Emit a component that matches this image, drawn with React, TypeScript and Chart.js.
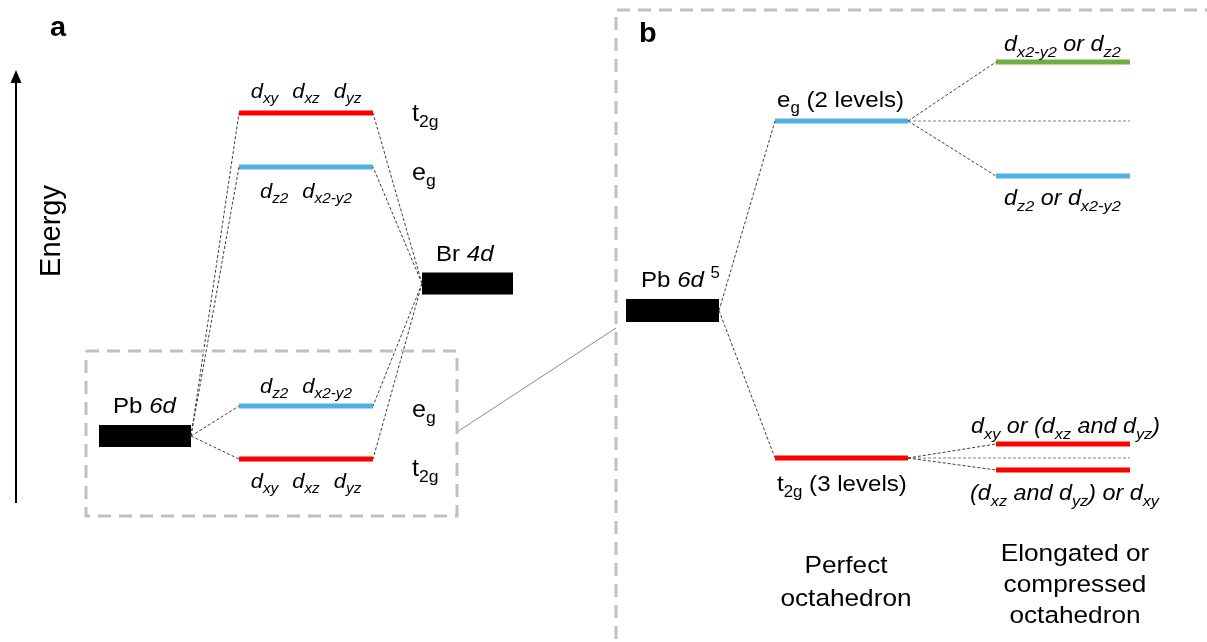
import React, { useEffect, useRef } from 'react';
import { Chart, registerables } from 'chart.js';

Chart.register(...registerables);

const W = 1207;
const H = 642;
const FONT = '"Liberation Sans", Arial, Helvetica, sans-serif';
const SX = 1.07; // horizontal stretch of the original figure's lettering

// ---------------- DATA ----------------
// Energy positions are expressed on the chart's vertical scale (0 = top of figure, high energy).
// Panel a: Pb 6d / Br 4d mixing
const panelAAtomNames = ['Pb 6d', 'Br 4d'];
const panelAAtomLevels = [436, 283.5];
const panelASymmetry = ['t2g', 'eg', 'eg', 't2g'];
const panelAMixedLevels = [113, 167, 406, 459]; // antibonding t2g, eg ; bonding eg, t2g
const panelAOrbitals = [
  ['xy', 'xz', 'yz'],
  ['z2', 'x2-y2'],
  ['z2', 'x2-y2'],
  ['xy', 'xz', 'yz'],
];

// Panel b: crystal-field splitting of Pb 6d^5
const panelBAtomLevel = [310.5];
const panelBOctahedronSymmetry = ['eg', 't2g'];
const panelBOctahedronLevels = [121, 458];
const panelBOctahedronCounts = [2, 3];
const panelBDistortedEg = [62, 176];
const panelBDistortedT2g = [444, 470];
const panelBColumnTitles = [
  ['Perfect', 'octahedron'],
  ['Elongated or', 'compressed', 'octahedron'],
];

// ---------------- LAYOUT / STYLE ----------------
const AX = { pb: [99, 191], mixed: [239, 373], br: [422, 513], sym: 412 };
const BX = { pb: [626, 719], oct: [775, 908], split: [996, 1130] };
const RED = '#ff0000';
const BLUE = '#4fb1df';
const GREEN = '#70ad47';
const symColor = (s: string) => (s === 't2g' ? RED : BLUE);

type Seg = { t: string; i?: boolean; b?: boolean; s?: 'sub' | 'sup' };

const segFont = (F: number, s: Seg) =>
  `${s.i ? 'italic ' : ''}${s.b ? 'bold ' : ''}${s.s ? F * 0.7 : F}px ${FONT}`;

function measure(ctx: CanvasRenderingContext2D, segs: Seg[], F: number) {
  let w = 0;
  for (const s of segs) {
    ctx.font = segFont(F, s);
    w += ctx.measureText(s.t).width;
  }
  return w * SX;
}

function drawRich(
  ctx: CanvasRenderingContext2D,
  segs: Seg[],
  x: number,
  y: number,
  F: number,
  align: 'left' | 'center' = 'left'
) {
  const w = measure(ctx, segs, F);
  let cx = align === 'center' ? x - w / 2 : x;
  ctx.save();
  ctx.fillStyle = '#000';
  ctx.textAlign = 'left';
  ctx.textBaseline = 'alphabetic';
  for (const s of segs) {
    ctx.font = segFont(F, s);
    const dy = s.s === 'sub' ? F * 0.26 : s.s === 'sup' ? -F * 0.42 : 0;
    ctx.save();
    ctx.translate(cx, y + dy);
    ctx.scale(SX, 1);
    ctx.fillText(s.t, 0, 0);
    ctx.restore();
    cx += ctx.measureText(s.t).width * SX;
  }
  ctx.restore();
}

const dOrb = (sub: string): Seg[] => [
  { t: 'd', i: true },
  { t: sub, i: true, s: 'sub' },
];
const it = (t: string): Seg => ({ t, i: true });
const symSegs = (s: string): Seg[] => [{ t: s[0] }, { t: s.slice(1), s: 'sub' }];
const atomSegs = (name: string): Seg[] => {
  const [el, orb] = name.split(' ');
  return [{ t: el + ' ' }, { t: orb, i: true }];
};

function drawGroup(ctx: CanvasRenderingContext2D, groups: Seg[][], cx: number, y: number, F: number, gap: number) {
  const widths = groups.map((g) => measure(ctx, g, F));
  const total = widths.reduce((a, b) => a + b, 0) + gap * (groups.length - 1);
  let x = cx - total / 2;
  groups.forEach((g, k) => {
    drawRich(ctx, g, x, y, F);
    x += widths[k] + gap;
  });
}

const seg = (x1: number, y1: number, x2: number, y2: number, style: any) => ({
  data: [
    { x: x1, y: y1 },
    { x: x2, y: y2 },
  ],
  pointRadius: 0,
  fill: false,
  tension: 0,
  ...style,
});

const LEVEL = (c: string) => ({ borderColor: c, borderWidth: 5, borderCapStyle: 'butt' });
const ATOM = { borderColor: '#000', borderWidth: 22, borderCapStyle: 'butt' };
const CONNECT = { borderColor: '#3c3c3c', borderWidth: 1, borderDash: [3, 2] };
const HORIZ = { borderColor: '#808080', borderWidth: 1, borderDash: [3, 2] };
const BOX = { borderColor: '#c0c0c0', borderWidth: 3, borderDash: [13, 8], borderJoinStyle: 'miter' };

function buildDatasets() {
  const ds: any[] = [];
  const [pbY, brY] = panelAAtomLevels;
  // panel a box
  ds.push({
    data: [
      { x: 86, y: 351 },
      { x: 457, y: 351 },
      { x: 457, y: 516 },
      { x: 86, y: 516 },
      { x: 86, y: 351 },
    ],
    pointRadius: 0,
    fill: false,
    ...BOX,
  });
  // panel b box
  ds.push({
    data: [
      { x: 616, y: 660 },
      { x: 616, y: 10 },
      { x: 1230, y: 10 },
    ],
    pointRadius: 0,
    fill: false,
    ...BOX,
  });
  // zoom link
  ds.push(seg(457, 432, 616, 328, { borderColor: '#8a8a8a', borderWidth: 1 }));
  // energy arrow shaft
  ds.push(seg(16, 503, 16, 80, { borderColor: '#000', borderWidth: 2 }));

  // panel a connectors
  panelAMixedLevels.forEach((y) => {
    ds.push(seg(AX.pb[1], pbY, AX.mixed[0], y, CONNECT));
    ds.push(seg(AX.br[0], brY, AX.mixed[1], y, CONNECT));
  });
  // panel a levels
  panelAMixedLevels.forEach((y, k) => {
    ds.push(seg(AX.mixed[0], y, AX.mixed[1], y, LEVEL(symColor(panelASymmetry[k]))));
  });
  ds.push(seg(AX.pb[0], pbY, AX.pb[1], pbY, ATOM));
  ds.push(seg(AX.br[0], brY, AX.br[1], brY, ATOM));

  // panel b
  const bPb = panelBAtomLevel[0];
  const [egY, t2Y] = panelBOctahedronLevels;
  ds.push(seg(BX.pb[1], bPb, BX.oct[0], egY, CONNECT));
  ds.push(seg(BX.pb[1], bPb, BX.oct[0], t2Y, CONNECT));
  panelBDistortedEg.forEach((y) => ds.push(seg(BX.oct[1], egY, BX.split[0], y, CONNECT)));
  panelBDistortedT2g.forEach((y) => ds.push(seg(BX.oct[1], t2Y, BX.split[0], y, CONNECT)));
  ds.push(seg(BX.oct[1], egY, BX.split[1], egY, HORIZ));
  ds.push(seg(BX.oct[1], t2Y, BX.split[1], t2Y, HORIZ));
  ds.push(seg(BX.oct[0], egY, BX.oct[1], egY, LEVEL(BLUE)));
  ds.push(seg(BX.oct[0], t2Y, BX.oct[1], t2Y, LEVEL(RED)));
  ds.push(seg(BX.split[0], panelBDistortedEg[0], BX.split[1], panelBDistortedEg[0], LEVEL(GREEN)));
  ds.push(seg(BX.split[0], panelBDistortedEg[1], BX.split[1], panelBDistortedEg[1], LEVEL(BLUE)));
  panelBDistortedT2g.forEach((y) => ds.push(seg(BX.split[0], y, BX.split[1], y, LEVEL(RED))));
  ds.push(seg(BX.pb[0], bPb, BX.pb[1], bPb, { ...ATOM, borderWidth: 23 }));
  return ds;
}

const textPlugin = {
  id: 'diagramText',
  afterDatasetsDraw(chart: any) {
    const ctx: CanvasRenderingContext2D = chart.ctx;
    const X = (v: number) => chart.scales.x.getPixelForValue(v);
    const Y = (v: number) => chart.scales.y.getPixelForValue(v);

    // arrow head
    ctx.save();
    ctx.fillStyle = '#000';
    ctx.beginPath();
    ctx.moveTo(X(16), Y(70));
    ctx.lineTo(X(10.5), Y(83));
    ctx.lineTo(X(21.5), Y(83));
    ctx.closePath();
    ctx.fill();
    ctx.restore();

    // panel letters
    drawRich(ctx, [{ t: 'a', b: true }], X(50), Y(36), 27);
    drawRich(ctx, [{ t: 'b', b: true }], X(639), Y(42), 27);

    // Energy (rotated)
    ctx.save();
    ctx.translate(X(60), Y(231));
    ctx.rotate(-Math.PI / 2);
    ctx.font = `29px ${FONT}`;
    ctx.fillStyle = '#000';
    ctx.textAlign = 'center';
    ctx.textBaseline = 'alphabetic';
    ctx.fillText('Energy', 0, 0);
    ctx.restore();

    // panel a
    const [pbY, brY] = panelAAtomLevels;
    drawRich(ctx, atomSegs(panelAAtomNames[0]), X(113), Y(pbY - 23), 22.5);
    drawRich(ctx, atomSegs(panelAAtomNames[1]), X(436), Y(brY - 22.5), 22.5);
    const symOffsets = [8, 13, 11, 17];
    const orbOffsets = [-15, 31, -13, 29];
    const cxA = (AX.mixed[0] + AX.mixed[1]) / 2;
    panelAMixedLevels.forEach((y, k) => {
      drawRich(ctx, symSegs(panelASymmetry[k]), X(AX.sym), Y(y + symOffsets[k]), 23.5);
      drawGroup(ctx, panelAOrbitals[k].map(dOrb), X(cxA), Y(y + orbOffsets[k]), 20.5, 14);
    });

    // panel b
    const bPb = panelBAtomLevel[0];
    drawRich(ctx, [...atomSegs('Pb 6d'), { t: ' ' }, { t: '5', s: 'sup' }], X(641), Y(bPb - 23.5), 22.5);
    const [egY, t2Y] = panelBOctahedronLevels;
    drawRich(
      ctx,
      [...symSegs(panelBOctahedronSymmetry[0]), { t: ` (${panelBOctahedronCounts[0]} levels)` }],
      X(777),
      Y(egY - 14),
      22.5
    );
    drawRich(
      ctx,
      [...symSegs(panelBOctahedronSymmetry[1]), { t: ` (${panelBOctahedronCounts[1]} levels)` }],
      X(777),
      Y(t2Y + 33),
      22.5
    );
    drawRich(ctx, [...dOrb('x2-y2'), it(' or '), ...dOrb('z2')], X(1004), Y(panelBDistortedEg[0] - 11), 21.8);
    drawRich(ctx, [...dOrb('z2'), it(' or '), ...dOrb('x2-y2')], X(1004), Y(panelBDistortedEg[1] + 29), 21.8);
    drawRich(
      ctx,
      [...dOrb('xy'), it(' or ('), ...dOrb('xz'), it(' and '), ...dOrb('yz'), it(')')],
      X(971),
      Y(panelBDistortedT2g[0] - 11),
      21.8
    );
    drawRich(
      ctx,
      [it('('), ...dOrb('xz'), it(' and '), ...dOrb('yz'), it(') or '), ...dOrb('xy')],
      X(970),
      Y(panelBDistortedT2g[1] + 30),
      21.8
    );

    // column titles
    panelBColumnTitles[0].forEach((line, k) => drawRich(ctx, [{ t: line }], X(846), Y(573 + k * 33), 24.5, 'center'));
    panelBColumnTitles[1].forEach((line, k) => drawRich(ctx, [{ t: line }], X(1075), Y(561 + k * 31), 24.5, 'center'));
  },
};

export default function App() {
  const ref = useRef<HTMLCanvasElement | null>(null);
  useEffect(() => {
    document.body.style.margin = '0';
    const canvas = ref.current;
    if (!canvas) return;
    const chart = new Chart(canvas, {
      type: 'line',
      data: { datasets: buildDatasets() },
      options: {
        animation: false,
        responsive: false,
        maintainAspectRatio: false,
        events: [],
        layout: { padding: 0 },
        plugins: {
          legend: { display: false },
          tooltip: { enabled: false },
          title: { display: false },
        },
        elements: { point: { radius: 0, hoverRadius: 0 }, line: { tension: 0 } },
        scales: {
          x: { type: 'linear', min: 0, max: W, display: false },
          y: { type: 'linear', min: 0, max: H, reverse: true, display: false },
        },
      } as any,
      plugins: [textPlugin],
    });
    return () => chart.destroy();
  }, []);
  return (
    <div style={{ width: W, height: H, background: '#fff' }}>
      <canvas ref={ref} width={W} height={H} style={{ display: 'block' }} />
    </div>
  );
}
